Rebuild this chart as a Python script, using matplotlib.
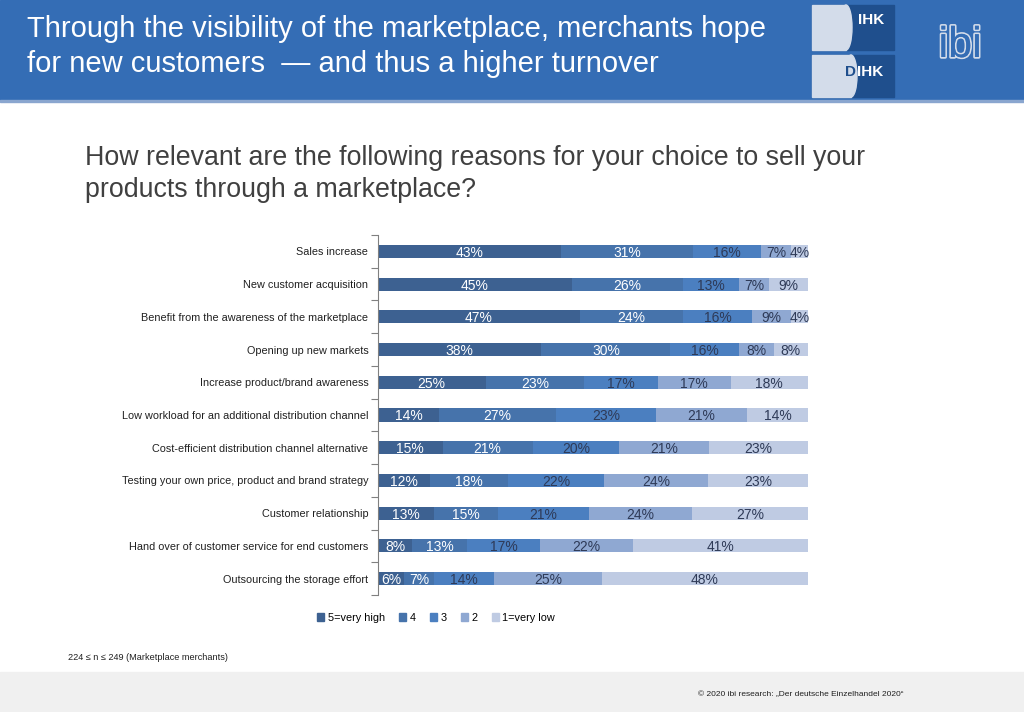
import matplotlib
matplotlib.use("Agg")
import matplotlib.pyplot as plt
import matplotlib.patches as mpatches
import matplotlib.patheffects as pe
import numpy as np

categories = [
    "Sales increase",
    "New customer acquisition",
    "Benefit from the awareness of the marketplace",
    "Opening up new markets",
    "Increase product/brand awareness",
    "Low workload for an additional distribution channel",
    "Cost-efficient distribution channel alternative",
    "Testing your own price, product and brand strategy",
    "Customer relationship",
    "Hand over of customer service for end customers",
    "Outsourcing the storage effort",
]
series_names = ["5=very high", "4", "3", "2", "1=very low"]
s5 = [43, 45, 47, 38, 25, 14, 15, 12, 13, 8, 6]
s4 = [31, 26, 24, 30, 23, 27, 21, 18, 15, 13, 7]
s3 = [16, 13, 16, 16, 17, 23, 20, 22, 21, 17, 14]
s2 = [7, 7, 9, 8, 17, 21, 21, 24, 24, 22, 25]
s1 = [4, 9, 4, 8, 18, 14, 23, 23, 27, 41, 48]

colors = ["#3D6191", "#4673AB", "#4B7FC0", "#8FA8D2", "#BFCBE3"]
text_colors = ["white", "white", "#2E3A57", "#2E3A57", "#2E3A57"]

W, H = 1024, 712
fig = plt.figure(figsize=(W / 100, H / 100), dpi=100)
fig.patch.set_facecolor("white")

def fx(x):
    return x / W

def fy(y):
    return 1 - y / H

# header band
fig.add_artist(mpatches.Rectangle((0, fy(100)), 1, 100 / H, transform=fig.transFigure,
                                  color="#346DB5", zorder=0))
fig.add_artist(mpatches.Rectangle((0, fy(102)), 1, 2 / H, transform=fig.transFigure,
                                  color="#8AA6CF", zorder=0))
# footer band
fig.add_artist(mpatches.Rectangle((0, 0), 1, 40 / H, transform=fig.transFigure,
                                  color="#F0F0F0", zorder=0))

sans = ["Liberation Sans", "DejaVu Sans"]

fig.text(fx(27), fy(29), "Through the visibility of the marketplace, merchants hope",
         color="white", fontsize=21, family=sans, va="center", ha="left")
fig.text(fx(27), fy(64), "for new customers  \u2014 and thus a higher turnover",
         color="white", fontsize=21, family=sans, va="center", ha="left")

# IHK logo
for (y0, y1, split) in [(5, 50, 852), (55, 97, 857)]:
    fig.add_artist(mpatches.Rectangle((fx(812), fy(y1)), 82 / W, (y1 - y0) / H,
                                      transform=fig.transFigure, color="#1F4F8D", zorder=1))
    fig.add_artist(mpatches.Rectangle((fx(812), fy(y1)), (split - 6 - 812) / W, (y1 - y0) / H,
                                      transform=fig.transFigure, color="#D3DCEA", zorder=2))
    fig.add_artist(mpatches.Ellipse((fx(split - 6), fy((y0 + y1) / 2)), 12 / W, (y1 - y0) / H,
                                    transform=fig.transFigure, color="#D3DCEA", zorder=2))
fig.text(fx(858), fy(20), "IHK", color="white", fontsize=11, family=sans,
         weight="bold", ha="left", va="center", zorder=3)
fig.text(fx(856), fy(72), "D", color="#1F4F8D", fontsize=11, family=sans,
         weight="bold", ha="right", va="center", zorder=3)
fig.text(fx(857), fy(72), "IHK", color="white", fontsize=11, family=sans,
         weight="bold", ha="left", va="center", zorder=3)
# ibi logo
t = fig.text(fx(960), fy(46), "ibi", color="#346DB5", fontsize=31, family=sans,
             ha="center", va="center", zorder=3)
t.set_path_effects([pe.withStroke(linewidth=2.5, foreground="#D3DCEA"), pe.Normal()])

# question title
fig.text(fx(85), fy(158), "How relevant are the following reasons for your choice to sell your",
         color="#404040", fontsize=19.3, family=sans, va="center", ha="left")
fig.text(fx(85), fy(190), "products through a marketplace?",
         color="#404040", fontsize=19.3, family=sans, va="center", ha="left")

# chart
ax = fig.add_axes([fx(378), fy(595), (808 - 378) / W, (595 - 235) / H])
data = np.array([s5, s4, s3, s2, s1], dtype=float)
totals = data.sum(axis=0)
norm = data / totals * 100
y = np.arange(len(categories))
left = np.zeros(len(categories))
for i, name in enumerate(series_names):
    ax.barh(y, norm[i], left=left, height=0.4, color=colors[i], label=name, zorder=2)
    for j in range(len(categories)):
        ax.text(left[j] + norm[i][j] / 2, y[j], f"{int(data[i][j])}%",
                ha="center", va="center_baseline", color=text_colors[i], fontsize=10,
                family=sans, zorder=3)
    left += norm[i]

ax.set_xlim(0, 100)
ax.set_ylim(len(categories) - 0.5, -0.5)
ax.set_yticks(y)
ax.set_yticklabels(categories, family=sans, fontsize=7.8, color="#202020")
ax.tick_params(axis="y", which="major", length=0, pad=7)
ax.set_yticks(np.arange(-0.5, len(categories), 1), minor=True)
ax.tick_params(axis="y", which="minor", length=5, color="#808080", width=0.8)
ax.set_xticks([])
for s in ["top", "right", "bottom"]:
    ax.spines[s].set_visible(False)
ax.spines["left"].set_color("#808080")
ax.spines["left"].set_linewidth(0.8)
ax.set_facecolor("none")

handles = [mpatches.Patch(color=c) for c in colors]
leg = fig.legend(handles, series_names, loc="center", bbox_to_anchor=(fx(436), fy(618)),
                 ncol=5, frameon=False, handlelength=0.7, handleheight=0.7,
                 handletextpad=0.3, columnspacing=1.3,
                 prop={"family": sans, "size": 7.8})

fig.text(fx(68), fy(658), "224 \u2264 n \u2264 249 (Marketplace merchants)",
         color="#202020", fontsize=6.6, family=sans, va="center", ha="left")
fig.text(fx(903), fy(695), "\u00a9 2020 ibi research: \u201eDer deutsche Einzelhandel 2020\u201c",
         color="#202020", fontsize=6, family=sans, va="center", ha="right")

fig.savefig("out.png", dpi=100, facecolor=fig.get_facecolor())
